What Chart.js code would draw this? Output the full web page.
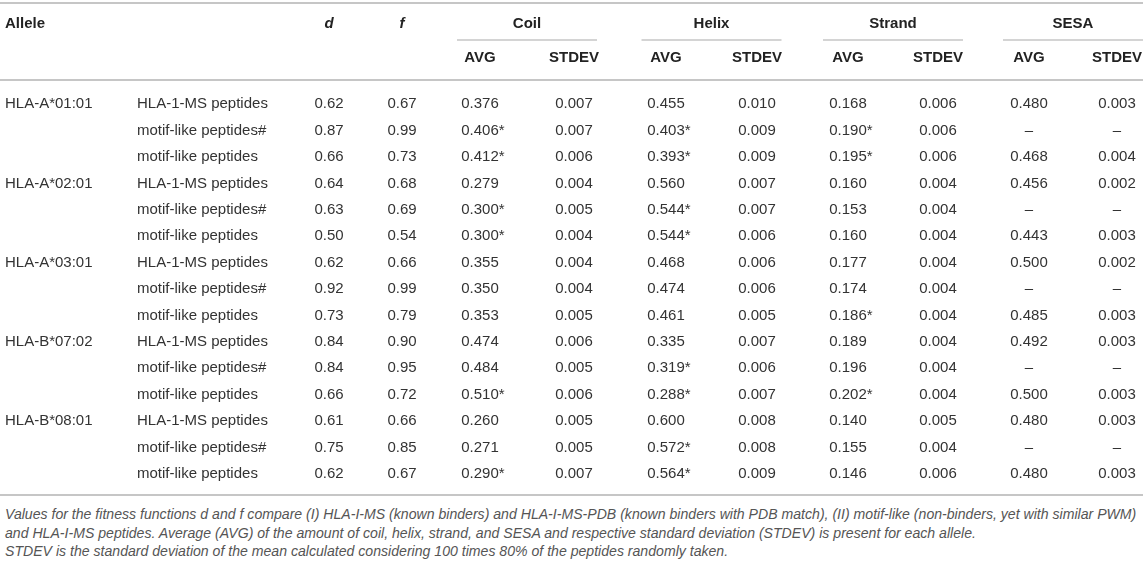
<!DOCTYPE html>
<html>
<head>
<meta charset="utf-8">
<script src="https://cdn.jsdelivr.net/npm/chart.js@4.4.1/dist/chart.umd.min.js"></script>
<style>
  html, body { margin: 0; padding: 0; background: #ffffff; }
  #wrap { position: relative; width: 1143px; height: 498px; }
  #note {
    position: absolute; left: 5px; top: 505px;
    font: italic 14.1px "Liberation Sans", Arial, sans-serif;
    line-height: 18.5px; color: #555555; white-space: nowrap;
  }
</style>
</head>
<body>
<div id="wrap"><canvas id="c"></canvas></div>
<div id="note">Values for the fitness functions d and f compare (I) HLA-I-MS (known binders) and HLA-I-MS-PDB (known binders with PDB match), (II) motif-like (non-binders, yet with similar PWM)<br>and HLA-I-MS peptides. Average (AVG) of the amount of coil, helix, strand, and SESA and respective standard deviation (STDEV) is present for each allele.<br>STDEV is the standard deviation of the mean calculated considering 100 times 80% of the peptides randomly taken.</div>
<script>
// ---------------- DATA ----------------
const alleles = ['HLA-A*01:01', 'HLA-A*02:01', 'HLA-A*03:01', 'HLA-B*07:02', 'HLA-B*08:01'];
const peptideSets = ['HLA-1-MS peptides', 'motif-like peptides#', 'motif-like peptides'];

const dValues = [0.62, 0.87, 0.66, 0.64, 0.63, 0.50, 0.62, 0.92, 0.73, 0.84, 0.84, 0.66, 0.61, 0.75, 0.62];
const fValues = [0.67, 0.99, 0.73, 0.68, 0.69, 0.54, 0.66, 0.99, 0.79, 0.90, 0.95, 0.72, 0.66, 0.85, 0.67];

const coilAvg     = [0.376, 0.406, 0.412, 0.279, 0.300, 0.300, 0.355, 0.350, 0.353, 0.474, 0.484, 0.510, 0.260, 0.271, 0.290];
const coilAvgStar = [0, 1, 1, 0, 1, 1, 0, 0, 0, 0, 0, 1, 0, 0, 1];
const coilStdev   = [0.007, 0.007, 0.006, 0.004, 0.005, 0.004, 0.004, 0.004, 0.005, 0.006, 0.005, 0.006, 0.005, 0.005, 0.007];

const helixAvg     = [0.455, 0.403, 0.393, 0.560, 0.544, 0.544, 0.468, 0.474, 0.461, 0.335, 0.319, 0.288, 0.600, 0.572, 0.564];
const helixAvgStar = [0, 1, 1, 0, 1, 1, 0, 0, 0, 0, 1, 1, 0, 1, 1];
const helixStdev   = [0.010, 0.009, 0.009, 0.007, 0.007, 0.006, 0.006, 0.006, 0.005, 0.007, 0.006, 0.007, 0.008, 0.008, 0.009];

const strandAvg     = [0.168, 0.190, 0.195, 0.160, 0.153, 0.160, 0.177, 0.174, 0.186, 0.189, 0.196, 0.202, 0.140, 0.155, 0.146];
const strandAvgStar = [0, 1, 1, 0, 0, 0, 0, 0, 1, 0, 0, 1, 0, 0, 0];
const strandStdev   = [0.006, 0.006, 0.006, 0.004, 0.004, 0.004, 0.004, 0.004, 0.004, 0.004, 0.004, 0.004, 0.005, 0.004, 0.006];

const sesaAvg   = [0.480, null, 0.468, 0.456, null, 0.443, 0.500, null, 0.485, 0.492, null, 0.500, 0.480, null, 0.480];
const sesaStdev = [0.003, null, 0.004, 0.002, null, 0.003, 0.002, null, 0.003, 0.003, null, 0.003, 0.003, null, 0.003];

const groupLabels = ['Coil', 'Helix', 'Strand', 'SESA'];
const subLabels = ['AVG', 'STDEV'];

// ---------------- LAYOUT (positions in canvas units) ----------------
const COLS = {
  allele:   { x: 5,    align: 'left' },
  peptides: { x: 137,  align: 'left' },
  d:        { x: 329,  align: 'center' },
  f:        { x: 402,  align: 'center' },
  coilA:    { x: 480,  align: 'center' },
  coilS:    { x: 574,  align: 'center' },
  helixA:   { x: 666,  align: 'center' },
  helixS:   { x: 757,  align: 'center' },
  strandA:  { x: 848,  align: 'center' },
  strandS:  { x: 938,  align: 'center' },
  sesaA:    { x: 1029, align: 'center' },
  sesaS:    { x: 1117, align: 'center' }
};
const GROUP_COLS = [['coilA', 'coilS'], ['helixA', 'helixS'], ['strandA', 'strandS'], ['sesaA', 'sesaS']];

const BODY_FONT = '15px "Liberation Sans", Arial, sans-serif';
const HEAD_FONT = 'bold 15px "Liberation Sans", Arial, sans-serif';
const HEAD_IT_FONT = 'italic bold 15px "Liberation Sans", Arial, sans-serif';
const TEXT_COLOR = '#333333';
const HEAD_COLOR = '#222222';
const RULE_COLOR = '#c6c6c6';

// ---------------- BUILD ----------------
const nRows = dValues.length;
const fmt = (v, digits) => (v === null ? '\u2013' : v.toFixed(digits));

function numericDataset(key, values, digits, stars) {
  return {
    label: key,
    colKey: key,
    data: values.map((v, i) => ({
      x: COLS[key].x, y: i,
      text: fmt(v, digits),
      star: stars ? !!stars[i] : false
    }))
  };
}

const alleleDataset = {
  label: 'allele', colKey: 'allele',
  data: alleles.map((a, k) => ({ x: COLS.allele.x, y: k * peptideSets.length, text: a }))
};
const peptideDataset = {
  label: 'peptides', colKey: 'peptides',
  data: Array.from({ length: nRows }, (_, i) => ({ x: COLS.peptides.x, y: i, text: peptideSets[i % peptideSets.length] }))
};

const datasets = [
  alleleDataset,
  peptideDataset,
  numericDataset('d', dValues, 2),
  numericDataset('f', fValues, 2),
  numericDataset('coilA', coilAvg, 3, coilAvgStar),
  numericDataset('coilS', coilStdev, 3),
  numericDataset('helixA', helixAvg, 3, helixAvgStar),
  numericDataset('helixS', helixStdev, 3),
  numericDataset('strandA', strandAvg, 3, strandAvgStar),
  numericDataset('strandS', strandStdev, 3),
  numericDataset('sesaA', sesaAvg, 3),
  numericDataset('sesaS', sesaStdev, 3)
];
datasets.forEach(ds => { ds.pointRadius = 0; ds.pointHoverRadius = 0; ds.showLine = false; });

function rule(ctx, x1, x2, y, w) {
  ctx.beginPath();
  ctx.lineWidth = w;
  ctx.strokeStyle = RULE_COLOR;
  ctx.moveTo(x1, y);
  ctx.lineTo(x2, y);
  ctx.stroke();
}

const tablePlugin = {
  id: 'tableText',
  afterDatasetsDraw(chart) {
    const { ctx, chartArea, scales } = chart;
    const xs = scales.x;
    const top = chartArea.top;
    ctx.save();
    ctx.textBaseline = 'middle';

    // rules
    rule(ctx, 0, chart.width, top - 88, 2);
    rule(ctx, 0, chart.width, top - 11, 2);
    rule(ctx, 0, chart.width, chartArea.bottom + 8, 2);

    // header rows
    const h1 = top - 67, h2 = top - 33, sub = top - 51;
    ctx.fillStyle = HEAD_COLOR;
    ctx.font = HEAD_FONT;
    ctx.textAlign = 'left';
    ctx.fillText('Allele', xs.getPixelForValue(COLS.allele.x), h1);
    ctx.textAlign = 'center';
    ctx.font = HEAD_IT_FONT;
    ctx.fillText('d', xs.getPixelForValue(COLS.d.x), h1);
    ctx.fillText('f', xs.getPixelForValue(COLS.f.x), h1);
    ctx.font = HEAD_FONT;
    GROUP_COLS.forEach((pair, g) => {
      const xa = xs.getPixelForValue(COLS[pair[0]].x);
      const xb = xs.getPixelForValue(COLS[pair[1]].x);
      const mid = (xa + xb) / 2;
      ctx.fillStyle = HEAD_COLOR;
      ctx.fillText(groupLabels[g], mid, h1);
      rule(ctx, mid - 70, Math.min(mid + 70, chart.width), sub, 1.3);
      ctx.fillStyle = HEAD_COLOR;
      ctx.fillText(subLabels[0], xa, h2);
      ctx.fillText(subLabels[1], xb, h2);
    });

    // body cells
    ctx.font = BODY_FONT;
    ctx.fillStyle = TEXT_COLOR;
    chart.data.datasets.forEach((ds, di) => {
      const meta = chart.getDatasetMeta(di);
      const align = COLS[ds.colKey].align;
      meta.data.forEach((el, i) => {
        const cell = ds.data[i];
        ctx.textAlign = align;
        ctx.fillText(cell.text, el.x, el.y);
        if (cell.star) {
          const w = ctx.measureText(cell.text).width;
          ctx.textAlign = 'left';
          ctx.fillText('*', el.x + w / 2, el.y);
        }
      });
    });
    ctx.restore();
  }
};

new Chart(document.getElementById('c'), {
  type: 'scatter',
  data: { datasets },
  options: {
    responsive: true,
    maintainAspectRatio: false,
    animation: false,
    events: [],
    layout: { padding: { top: 91, bottom: 11, left: 0, right: 0 } },
    plugins: { legend: { display: false }, tooltip: { enabled: false } },
    scales: {
      x: { type: 'linear', display: false, min: 0, max: 1143 },
      y: { type: 'linear', display: false, reverse: true, min: -0.5, max: nRows - 0.5 }
    }
  },
  plugins: [tablePlugin]
});
</script>
</body>
</html>
